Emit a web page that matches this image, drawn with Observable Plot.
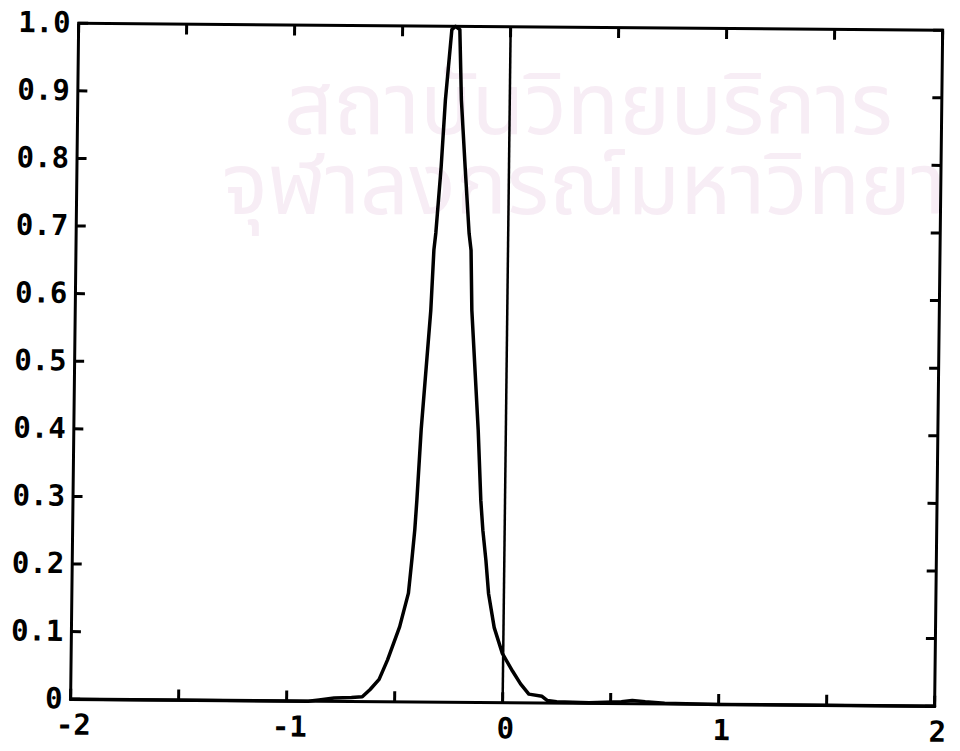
<!DOCTYPE html>
<html>
<head>
<meta charset="utf-8">
<script src="https://cdn.jsdelivr.net/npm/d3@7"></script>
<script src="https://cdn.jsdelivr.net/npm/@observablehq/plot@0.6"></script>
<style>
  html, body { margin: 0; padding: 0; background: #fff; }
  #wrap { position: relative; width: 960px; height: 751px; overflow: hidden; }
  .wm { position: absolute; left: 222px; top: 68px; white-space: pre; color: #f7edf5;
        font-family: "Noto Sans Thai", "Noto Sans", "DejaVu Sans", sans-serif;
        font-size: 86px; line-height: 80px; text-indent: 62px; }
  #chart { position: absolute; left: 0; top: 0; }
  #chart svg { display: block; transform-origin: 480px 375.5px;
               transform: matrix(1, 0.0081, -0.0119, 1, 0, 0); }
</style>
</head>
<body>
<div id="wrap">
  <div class="wm" id="wm"></div>
  <div id="chart"></div>
</div>
<script>
// Watermark text lines (as seen in the scan)
const watermark = ["สถาบันวิทยบริการ", "จุฬาลงกรณ์มหาวิทยา"];
document.getElementById("wm").textContent = watermark.join("\n");

// Curve (x value, density)
const curveX = [-2.0, -0.90, -0.85, -0.78, -0.70, -0.65, -0.614, -0.573, -0.535, -0.481, -0.442, -0.428,
  -0.416, -0.408, -0.392, -0.354, -0.343, -0.335, -0.314, -0.298, -0.272, -0.255,
  -0.235, -0.224, -0.203, -0.181, -0.171, -0.164, -0.128, -0.112, -0.101, -0.085, -0.071, -0.043,
  -0.004, 0.044, 0.082, 0.121, 0.182, 0.206, 0.25, 0.40, 0.55, 0.60, 0.66, 0.75, 1.0, 2.0];
const curveY = [0.0, 0.0, 0.002, 0.005, 0.006, 0.007, 0.018, 0.033, 0.062, 0.111, 0.161, 0.210,
  0.255, 0.299, 0.403, 0.580, 0.669, 0.694, 0.792, 0.891, 0.995, 1.0,
  0.995, 0.891, 0.792, 0.694, 0.669, 0.580, 0.403, 0.299, 0.255, 0.210, 0.161, 0.111,
  0.073, 0.047, 0.028, 0.013, 0.010, 0.004, 0.002, 0.001, 0.003, 0.005, 0.003, 0.001, 0.0, 0.0];
const xTicks = [-2, -1.5, -1, -0.5, 0, 0.5, 1, 1.5, 2];
const xLabels = [-2, -1, 0, 1, 2];
const yTicks = [0, 0.1, 0.2, 0.3, 0.4, 0.5, 0.6, 0.7, 0.8, 0.9, 1.0];
const refLine = [0];

const curve = curveX.map((x, i) => ({x, y: curveY[i]}));
const yFmt = d => d === 0 ? "0" : d.toFixed(1);
const xFmt = d => d < 0 ? "-" + Math.abs(d) : String(d);

const chart = Plot.plot({
  width: 960,
  height: 751,
  marginLeft: 74,
  marginRight: 22,
  marginTop: 26,
  marginBottom: 49,
  style: {background: "transparent", color: "#000", fontFamily: "'DejaVu Sans Mono', monospace",
          fontSize: "29px", fontWeight: "bold"},
  x: {domain: [-2, 2]},
  y: {domain: [0, 1]},
  marks: [
    Plot.ruleX(refLine, {stroke: "#000", strokeWidth: 2.5}),
    Plot.line(curve, {x: "x", y: "y", stroke: "#000", strokeWidth: 3.5, strokeLinejoin: "round"}),
    Plot.frame({stroke: "#000", strokeWidth: 3}),
    Plot.axisX(xTicks, {anchor: "bottom", tickSize: 10, dy: -10, fill: "none", strokeWidth: 3, label: null}),
    Plot.axisX(xTicks, {anchor: "top", tickSize: 10, dy: 10, fill: "none", strokeWidth: 3, label: null}),
    Plot.axisY(yTicks, {anchor: "left", tickSize: 10, dx: 10, fill: "none", strokeWidth: 3, label: null}),
    Plot.axisY(yTicks, {anchor: "right", tickSize: 10, dx: -10, fill: "none", strokeWidth: 3, label: null}),
    Plot.axisX(xLabels, {anchor: "bottom", tickSize: 0, tickPadding: 15, dx: 3, tickFormat: xFmt, label: null}),
    Plot.axisY(yTicks, {anchor: "left", tickSize: 0, tickPadding: 8, tickFormat: yFmt, label: null})
  ]
});
document.getElementById("chart").appendChild(chart);
</script>
</body>
</html>
